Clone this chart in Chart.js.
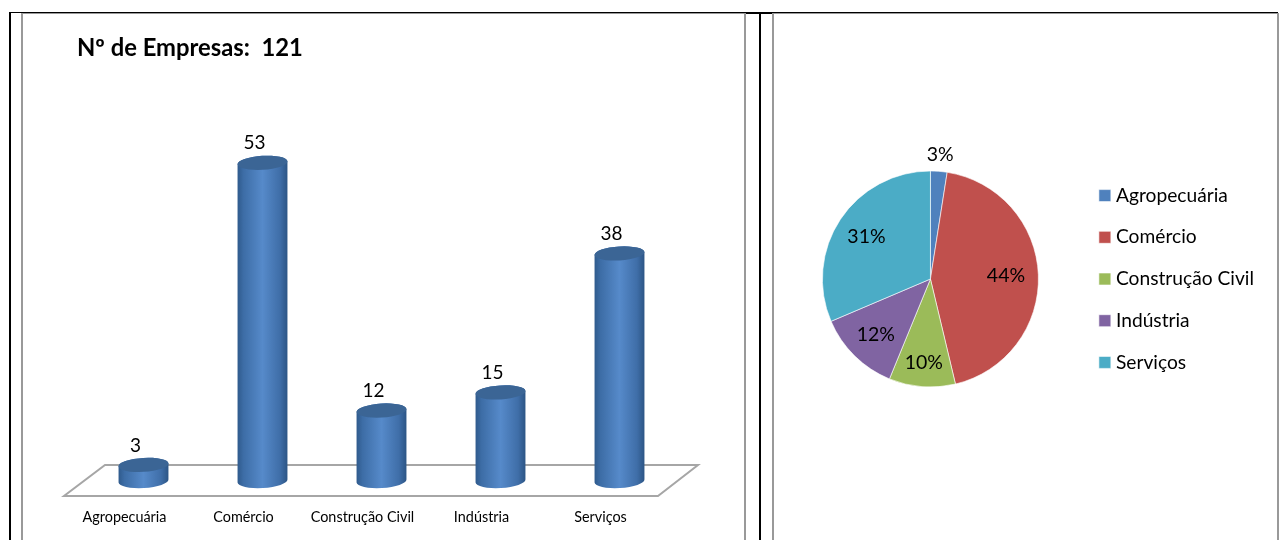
<!DOCTYPE html>
<html>
<head>
<meta charset="utf-8">
<title>Empresas</title>
<script src="https://cdn.jsdelivr.net/npm/chart.js@4"></script>
<style>
  html, body { margin: 0; padding: 0; background: #fff; width: 1282px; height: 540px; overflow: hidden; }
  .line { position: absolute; }
  .chart { position: absolute; top: 0; height: 540px; }
  #barChart { left: 23px; width: 721px; }
  #pieChart { left: 775px; width: 502px; }
</style>
</head>
<body>
<!-- table borders -->
<div class="line" style="left:9px;top:12px;width:1269px;height:1px;background:#000"></div>
<div class="line" style="left:22px;top:13px;width:723px;height:1px;background:#999"></div>
<div class="line" style="left:773px;top:13px;width:505px;height:1px;background:#999"></div>
<div class="line" style="left:745px;top:13px;width:29px;height:1px;background:#000"></div>
<div class="line" style="left:9px;top:12px;width:2px;height:528px;background:#000"></div>
<div class="line" style="left:21px;top:13px;width:2px;height:527px;background:#999"></div>
<div class="line" style="left:744px;top:13px;width:2px;height:527px;background:#999"></div>
<div class="line" style="left:759px;top:13px;width:2px;height:527px;background:#000"></div>
<div class="line" style="left:772px;top:13px;width:2px;height:527px;background:#999"></div>
<div class="line" style="left:1277px;top:13px;width:2px;height:527px;background:#999"></div>

<div class="chart" id="barChart"><canvas id="barCanvas" width="721" height="540"></canvas></div>
<div class="chart" id="pieChart"><canvas id="pieCanvas" width="502" height="540"></canvas></div>

<script>
const categories = ['Agropecuária', 'Comércio', 'Construção Civil', 'Indústria', 'Serviços'];
const empresas = [3, 53, 12, 15, 38];
const percentLabels = ['3%', '44%', '10%', '12%', '31%'];
const sliceColors = ['#4f81bd', '#c0504d', '#9bbb59', '#8064a2', '#4bacc6'];
const titleText = 'Nº de Empresas:  121';
const fontName = 'Lato, "Open Sans", sans-serif';

Chart.defaults.font.family = fontName;
Chart.defaults.color = '#000';
Chart.defaults.animation = false;

// Grey floor under the columns
const floorPlugin = {
    id: 'floor',
    beforeDatasetsDraw(chart) {
        const a = chart.chartArea;
        const ctx = chart.ctx;
        ctx.save();
        ctx.strokeStyle = '#a6a6a6';
        ctx.lineWidth = 2;
        ctx.beginPath();
        ctx.moveTo(a.left - 20, a.bottom + 13);
        ctx.lineTo(a.right - 21, a.bottom + 13);
        ctx.lineTo(a.right + 19, a.bottom - 18);
        ctx.lineTo(a.left + 21, a.bottom - 18);
        ctx.closePath();
        ctx.stroke();
        ctx.restore();
    }
};

// Bars are drawn as tilted cylinders, from the bar elements
const cylinderPlugin = {
    id: 'cylinder',
    afterDatasetsDraw(chart) {
        const ctx = chart.ctx;
        const tilt = -0.06;
        chart.getDatasetMeta(0).data.forEach((bar, i) => {
            const a = bar.width / 2;
            const b = 7;
            const bottom = bar.base - 2;
            const grad = ctx.createLinearGradient(bar.x - a, 0, bar.x + a, 0);
            grad.addColorStop(0, '#2f5a8c');
            grad.addColorStop(0.12, '#3d6da6');
            grad.addColorStop(0.5, '#568aca');
            grad.addColorStop(0.85, '#3f6ea8');
            grad.addColorStop(1, '#2c5585');
            ctx.save();
            ctx.beginPath();
            ctx.ellipse(bar.x, bottom, a, b, tilt, 0, Math.PI);
            ctx.ellipse(bar.x, bar.y, a, b, tilt, Math.PI, Math.PI * 2);
            ctx.closePath();
            ctx.fillStyle = grad;
            ctx.fill();
            ctx.beginPath();
            ctx.ellipse(bar.x, bar.y, a, b, tilt, 0, Math.PI * 2);
            ctx.fillStyle = '#3b6595';
            ctx.fill();
            ctx.fillStyle = '#000';
            ctx.font = '19px ' + fontName;
            ctx.textAlign = 'center';
            ctx.textBaseline = 'middle';
            ctx.fillText(empresas[i], bar.x - 8, bar.y - 19.5);
            ctx.restore();
        });
    }
};

// Percent labels, the smallest slice has its label outside the pie
const pieLabelPlugin = {
    id: 'pieLabels',
    afterDatasetsDraw(chart) {
        const ctx = chart.ctx;
        const radial = [1.15, 0.7, 0.78, 0.72, 0.71];
        ctx.save();
        ctx.fillStyle = '#000';
        ctx.font = '19.5px ' + fontName;
        ctx.textAlign = 'center';
        ctx.textBaseline = 'middle';
        chart.getDatasetMeta(0).data.forEach((arc, i) => {
            const mid = (arc.startAngle + arc.endAngle) / 2;
            const r = arc.outerRadius * radial[i];
            ctx.fillText(percentLabels[i], arc.x + Math.cos(mid) * r, arc.y + Math.sin(mid) * r);
        });
        ctx.restore();
    }
};

new Chart(document.getElementById('barCanvas'), {
    type: 'bar',
    data: {
        labels: categories,
        datasets: [{
            data: empresas,
            backgroundColor: 'transparent',
            categoryPercentage: 1,
            barPercentage: 0.42
        }]
    },
    plugins: [floorPlugin, cylinderPlugin],
    options: {
        responsive: false,
        layout: { padding: { left: 54, right: 65, bottom: 0 } },
        scales: {
            x: {
                grid: { display: false, drawTicks: false },
                border: { display: false },
                ticks: { font: { size: 14.4 }, padding: 26, labelOffset: -19, autoSkip: false, maxRotation: 0 },
                afterFit(scale) { scale.height = 57; }
            },
            y: {
                min: 0,
                max: 60,
                grid: { display: false, drawTicks: false },
                border: { display: false },
                ticks: { display: false },
                afterFit(scale) { scale.width = 7; }
            }
        },
        plugins: {
            legend: { display: false },
            tooltip: { enabled: false },
            title: {
                display: true,
                text: titleText,
                align: 'start',
                color: '#000',
                font: { size: 23.8, weight: 'bold' },
                padding: { top: 34, bottom: 58 }
            }
        }
    }
});

new Chart(document.getElementById('pieCanvas'), {
    type: 'pie',
    data: {
        labels: categories,
        datasets: [{
            data: empresas,
            backgroundColor: sliceColors,
            borderColor: 'rgba(255,255,255,0.6)',
            borderWidth: 1,
            radius: 108
        }]
    },
    plugins: [pieLabelPlugin],
    options: {
        responsive: false,
        layout: { padding: { top: 18, right: 13, left: 5 } },
        plugins: {
            tooltip: { enabled: false },
            legend: {
                position: 'right',
                labels: { font: { size: 19.2 }, usePointStyle: true, pointStyle: 'rect', boxWidth: 3, boxHeight: 12, padding: 22.5, color: '#000' }
            }
        }
    }
});
</script>
</body>
</html>
